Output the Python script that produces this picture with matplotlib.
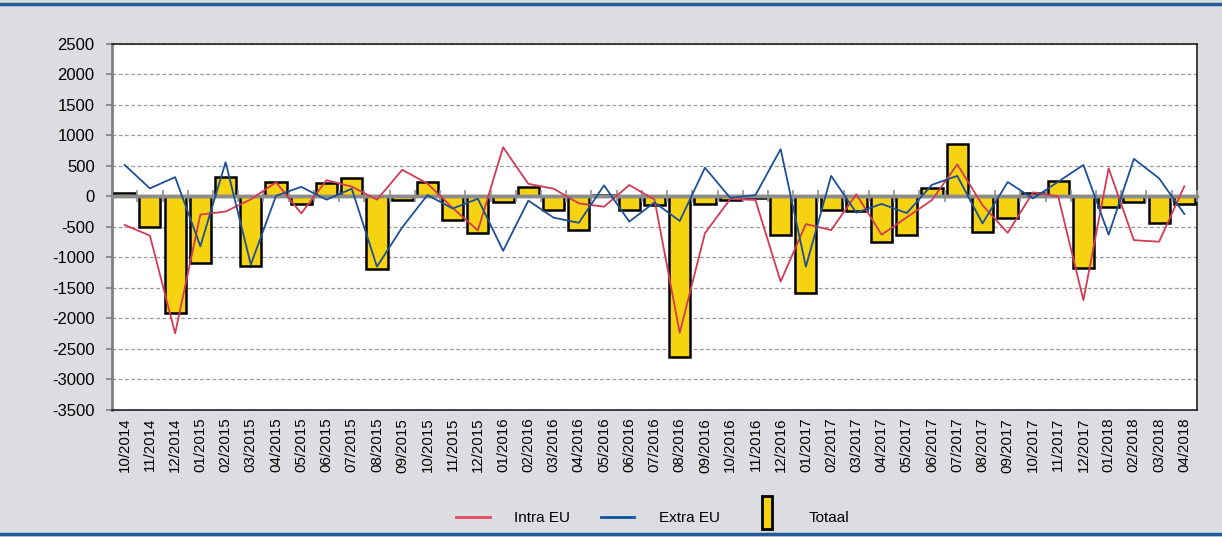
import numpy as np
import matplotlib
matplotlib.use("Agg")
import matplotlib.pyplot as plt
from matplotlib.patches import Rectangle
from matplotlib.lines import Line2D
from matplotlib.legend_handler import HandlerPatch

plt.rcParams['font.family'] = ['Liberation Sans', 'DejaVu Sans']

months = ['10/2014', '11/2014', '12/2014',
          '01/2015', '02/2015', '03/2015', '04/2015', '05/2015', '06/2015',
          '07/2015', '08/2015', '09/2015', '10/2015', '11/2015', '12/2015',
          '01/2016', '02/2016', '03/2016', '04/2016', '05/2016', '06/2016',
          '07/2016', '08/2016', '09/2016', '10/2016', '11/2016', '12/2016',
          '01/2017', '02/2017', '03/2017', '04/2017', '05/2017', '06/2017',
          '07/2017', '08/2017', '09/2017', '10/2017', '11/2017', '12/2017',
          '01/2018', '02/2018', '03/2018', '04/2018']

totaal = [60, -510, -1920,
          -1100, 325, -1140, 240, -125, 220, 300, -1200, -65, 235, -385, -600,
          -90, 160, -220, -545, 25, -225, -145, -2630, -130, -65, -30, -630,
          -1590, -220, -235, -755, -635, 135, 860, -580, -360, 50, 255, -1180,
          -170, -100, -440, -120]

intra_eu = [-470, -645, -2250,
            -300, -250, -50, 230, -280, 265, 160, -55, 435, 210, -190, -560,
            805, 205, 125, -115, -170, 185, -55, -2240, -605, -45, -60, -1400,
            -455, -555, 35, -630, -345, -60, 525, -145, -600, 65, 0, -1705,
            460, -720, -745, 165]

extra_eu = [515, 130, 315,
            -820, 560, -1120, 10, 155, -55, 125, -1155, -510, 20, -200, -40,
            -895, -70, -350, -435, 180, -415, -100, -405, 470, -25, 20, 775,
            -1155, 335, -270, -125, -275, 190, 335, -445, 235, -35, 240, 515,
            -630, 615, 295, -290]

yticks = list(range(-3500, 2501, 500))

bg = '#dcdde0'
red = '#d23a55'
blue = '#1f4f96'
yellow = '#f5d311'

fig = plt.figure(figsize=(12.22, 5.37), dpi=100, facecolor=bg)
ax = fig.add_axes([0.0917, 0.2374, 0.8878, 0.6806])
ax.set_facecolor('white')

x = np.arange(len(months))
ax.bar(x, totaal, width=0.84, color=yellow, edgecolor='black', linewidth=1.8, zorder=3)
ax.plot(x, intra_eu, color=red, lw=1.3, zorder=5)
ax.plot(x, extra_eu, color=blue, lw=1.3, zorder=5)

ax.set_xlim(-0.5, len(months) - 0.5)
ax.set_ylim(yticks[0], yticks[-1])
ax.set_yticks(yticks)
ax.set_yticklabels([str(v) for v in yticks], fontsize=12)
ax.tick_params(axis='y', length=4, width=1.2, color='#808080', pad=8.5)
ax.set_xticks(x)
ax.set_xticklabels(months, rotation=90, fontsize=10.8)
ax.tick_params(axis='x', length=0, pad=6)

ax.grid(axis='y', color='#9a9a9a', ls=(0, (3, 2)), lw=0.9, zorder=0)
ax.set_axisbelow(True)
for s in ['top', 'right', 'bottom']:
    ax.spines[s].set_color('#222222')
    ax.spines[s].set_linewidth(1.2)
ax.spines['left'].set_color('#808080')
ax.spines['left'].set_linewidth(2)

# category axis crossing at zero
zero_frac = (0 - yticks[0]) / (yticks[-1] - yticks[0])
sec = ax.secondary_xaxis(zero_frac)
sec.set_xticks(np.arange(len(months) + 1) - 0.5)
sec.set_xticklabels([])
sec.tick_params(axis='x', direction='inout', length=8, width=1.2, color='#909090')
sec.spines['bottom'].set_visible(False)
sec.spines['top'].set_color('#8c8c8c')
sec.spines['top'].set_linewidth(2.5)
sec.set_zorder(4)
ax.axhline(0, color='#8c8c8c', lw=2.5, zorder=4)

# frame lines top and bottom
fig.add_artist(Line2D([0, 1], [0.993, 0.993], color='#1f5c99', lw=2.5))
fig.add_artist(Line2D([0, 1], [0.006, 0.006], color='#1f5c99', lw=2.5))


def tall_box(legend, orig_handle, xdescent, ydescent, width, height, fontsize):
    return Rectangle((-xdescent + width / 2 - 3.5, -ydescent + height / 2 - 9),
                     7, 24)


handles = [Line2D([], [], color='#e34a60', lw=2),
           Line2D([], [], color='#0c52a0', lw=2),
           Rectangle((0, 0), 1, 1, facecolor=yellow, edgecolor='black', lw=2)]
fig.legend(handles, ['Intra EU', 'Extra EU', 'Totaal'], loc='center',
           bbox_to_anchor=(0.534, 0.035), ncol=3, frameon=False, fontsize=11,
           handlelength=2.2, handletextpad=1.6, columnspacing=2.0,
           handler_map={Rectangle: HandlerPatch(patch_func=tall_box)})

fig.savefig('out.png', dpi=100, facecolor=bg)
